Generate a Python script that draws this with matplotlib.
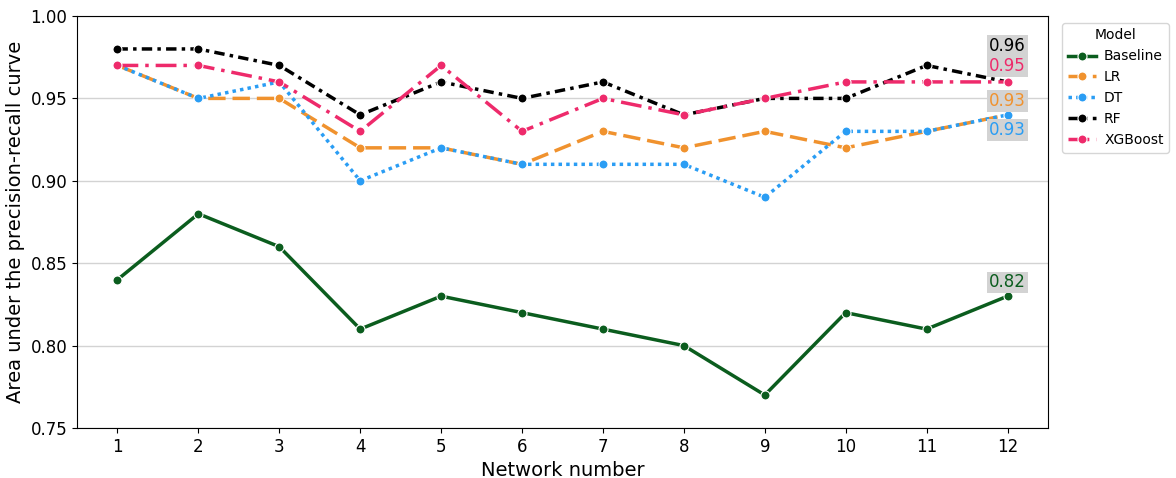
import matplotlib
matplotlib.use("Agg")
import matplotlib.pyplot as plt
import numpy as np

networks = [1, 2, 3, 4, 5, 6, 7, 8, 9, 10, 11, 12]
models = ["Baseline", "LR", "DT", "RF", "XGBoost"]
baseline = [0.84, 0.88, 0.86, 0.81, 0.83, 0.82, 0.81, 0.80, 0.77, 0.82, 0.81, 0.83]
lr = [0.97, 0.95, 0.95, 0.92, 0.92, 0.91, 0.93, 0.92, 0.93, 0.92, 0.93, 0.94]
dt = [0.97, 0.95, 0.96, 0.90, 0.92, 0.91, 0.91, 0.91, 0.89, 0.93, 0.93, 0.94]
rf = [0.98, 0.98, 0.97, 0.94, 0.96, 0.95, 0.96, 0.94, 0.95, 0.95, 0.97, 0.96]
xgb = [0.97, 0.97, 0.96, 0.93, 0.97, 0.93, 0.95, 0.94, 0.95, 0.96, 0.96, 0.96]
series = [baseline, lr, dt, rf, xgb]
mean_labels = ["0.82", "0.93", "0.93", "0.96", "0.95"]

colors = ["#0b5d1e", "#f0922e", "#2a9df4", "#000000", "#ee2a6b"]
styles = ["-", (0, (5, 2)), (0, (1, 1.2)), (0, (3, 1.5, 1, 1.5)), (0, (6, 2, 1, 2))]
label_offsets = [10, 10, -11, 26, 11.5]  # points, vertical offset from last point

fig = plt.figure(figsize=(11.76, 4.78), dpi=100)
ax = fig.add_axes([77 / 1176, 50 / 478, (1048 - 77) / 1176, (428 - 16) / 478])

for name, vals, c, ls, off, lab in zip(models, series, colors, styles, label_offsets, mean_labels):
    ax.plot(networks, vals, color=c, linestyle=ls, linewidth=2.5, marker="o",
            markersize=6.5, markeredgecolor="white", markeredgewidth=0.8, label=name)
    ax.annotate(lab, (networks[-1], vals[-1]), xytext=(0, off), textcoords="offset points",
                ha="center", va="center", fontsize=12, color=c,
                bbox=dict(boxstyle="square,pad=0.1", facecolor="#d3d3d3", edgecolor="none"))

ax.set_xlim(0.5, 12.5)
ax.set_ylim(0.75, 1.00)
ax.set_xticks(networks)
ax.set_yticks([0.75, 0.80, 0.85, 0.90, 0.95, 1.00])
ax.set_yticklabels(["0.75", "0.80", "0.85", "0.90", "0.95", "1.00"])
ax.tick_params(axis="both", labelsize=12)
ax.yaxis.grid(True, color="#d3d3d3", linewidth=1)
ax.set_axisbelow(True)
ax.set_xlabel("Network number", fontsize=14)
ax.set_ylabel("Area under the precision-recall curve", fontsize=14)

leg = ax.legend(title="Model", loc="upper left", bbox_to_anchor=(1.012, 0.99), fontsize=10,
                title_fontsize=10, handlelength=2.0, handletextpad=0.6, borderpad=0.4,
                borderaxespad=0.2)

fig.savefig("out.png", dpi=100)
